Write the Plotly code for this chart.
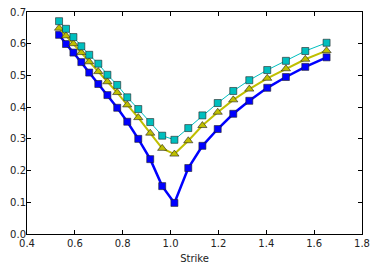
import plotly.graph_objects as go

strike = [0.534, 0.563, 0.594, 0.627, 0.660, 0.698, 0.736, 0.777, 0.819, 0.865, 0.915,
          0.965, 1.016, 1.074, 1.133, 1.197, 1.262, 1.329, 1.404, 1.482, 1.563, 1.652]
blue_vals = [0.628, 0.599, 0.572, 0.542, 0.509, 0.473, 0.438, 0.398, 0.354, 0.300, 0.236,
             0.151, 0.098, 0.208, 0.278, 0.331, 0.379, 0.420, 0.461, 0.495, 0.527, 0.557]
yellow_vals = [0.649, 0.625, 0.600, 0.572, 0.543, 0.512, 0.480, 0.446, 0.407, 0.367, 0.318,
               0.270, 0.252, 0.294, 0.342, 0.384, 0.423, 0.457, 0.491, 0.521, 0.551, 0.578]
cyan_vals = [0.671, 0.647, 0.621, 0.592, 0.565, 0.537, 0.502, 0.470, 0.431, 0.394, 0.353,
             0.310, 0.297, 0.334, 0.374, 0.413, 0.451, 0.485, 0.517, 0.546, 0.577, 0.603]
x_ticks = [0.4, 0.6, 0.8, 1.0, 1.2, 1.4, 1.6, 1.8]
y_ticks = [0.0, 0.1, 0.2, 0.3, 0.4, 0.5, 0.6, 0.7]

edge = dict(color="#202020", width=0.6)
fig = go.Figure()
fig.add_trace(go.Scatter(x=strike, y=blue_vals, mode="lines+markers",
                         line=dict(color="#0000ff", width=2.5),
                         marker=dict(symbol="square", size=7, color="#0000ff", line=edge)))
fig.add_trace(go.Scatter(x=strike, y=yellow_vals, mode="lines+markers",
                         line=dict(color="#bfbf00", width=2),
                         marker=dict(symbol="triangle-up", size=8, color="#bfbf00", line=edge)))
fig.add_trace(go.Scatter(x=strike, y=cyan_vals, mode="lines+markers",
                         line=dict(color="#00bfbf", width=1),
                         marker=dict(symbol="square", size=7, color="#00bfbf", line=edge)))

axis_common = dict(showgrid=False, zeroline=False, showline=True, linecolor="black",
                   linewidth=1, mirror="allticks", ticks="inside", ticklen=4,
                   tickcolor="black", tickwidth=1, automargin=False,
                   ticklabeloverflow="allow",
                   tickfont=dict(family="DejaVu Sans", size=10, color="#222222"))
fig.update_xaxes(range=[0.4, 1.8], tickvals=x_ticks,
                 ticktext=[f"{v:.1f}" for v in x_ticks], ticklabelstandoff=0,
                 title=dict(text="Strike", font=dict(family="DejaVu Sans", size=10, color="#222222"),
                            standoff=6),
                 **axis_common)
fig.update_yaxes(range=[0.0, 0.7], tickvals=y_ticks, ticklabelstandoff=-2,
                 ticktext=[f"{v:.1f}" for v in y_ticks], **axis_common)
fig.update_layout(width=377, height=271, showlegend=False, hovermode=False,
                  margin=dict(l=27, r=15, t=12, b=37, autoexpand=False),
                  paper_bgcolor="white", plot_bgcolor="white")
fig.write_html("out.html", config={"displayModeBar": False, "staticPlot": True})

with open("out.html", "r", encoding="utf-8") as f:
    html = f.read()
html = html.replace("<body>", '<body style="margin:0;padding:0;overflow:hidden">', 1)
with open("out.html", "w", encoding="utf-8") as f:
    f.write(html)
